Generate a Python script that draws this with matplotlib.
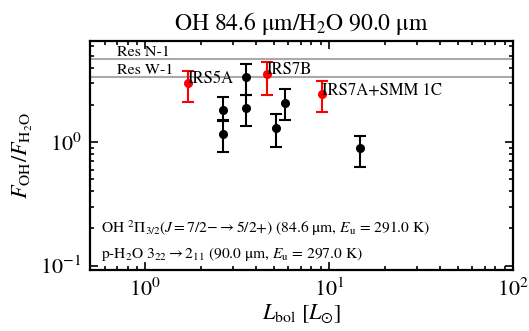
import matplotlib
matplotlib.use("Agg")
import matplotlib.pyplot as plt

plt.rcParams['font.family'] = ['STIXGeneral', 'DejaVu Serif']
plt.rcParams['mathtext.fontset'] = 'stix'

# data
lbol_black = [2.64, 2.64, 3.53, 3.53, 5.15, 5.77, 14.7]
ratio_black = [1.83, 1.16, 1.88, 3.4, 1.31, 2.09, 0.89]
err_lo_black = [1.49, 0.83, 1.34, 2.4, 0.92, 1.50, 0.63]
err_hi_black = [2.34, 1.50, 2.42, 4.3, 1.70, 2.69, 1.12]

names_red = ["IRS5A", "IRS7B", "IRS7A+SMM 1C"]
lbol_red = [1.71, 4.58, 9.13]
ratio_red = [3.0, 3.56, 2.45]
err_lo_red = [2.1, 2.42, 1.77]
err_hi_red = [3.8, 4.45, 3.1]

res_names = ["Res N-1", "Res W-1"]
res_values = [4.7, 3.4]

fig = plt.figure(figsize=(5.29, 3.31), dpi=100)
ax = fig.add_axes([90/529, 1-270/331, (513-90)/529, (270-41)/331])
ax.set_xscale('log')
ax.set_yscale('log')
ax.set_xlim(0.5, 100)
ax.set_ylim(0.092, 6.6)

for v, n in zip(res_values, res_names):
    ax.axhline(v, color='#aaaaaa', lw=1.5, zorder=1)
    ax.text(0.7, v, n, fontsize=11.5, va='bottom', ha='left')

yerr_b = [[r - l for r, l in zip(ratio_black, err_lo_black)],
          [h - r for r, h in zip(ratio_black, err_hi_black)]]
ax.errorbar(lbol_black, ratio_black, yerr=yerr_b, fmt='o', color='black',
            ms=5.5, capsize=4.5, elinewidth=1.5, capthick=1.5, zorder=3)
yerr_r = [[r - l for r, l in zip(ratio_red, err_lo_red)],
          [h - r for r, h in zip(ratio_red, err_hi_red)]]
ax.errorbar(lbol_red, ratio_red, yerr=yerr_r, fmt='o', color='red',
            ms=5.5, capsize=4.5, elinewidth=1.5, capthick=1.5, zorder=3)
for x, y, n in zip(lbol_red, ratio_red, names_red):
    ax.text(x, y, n, fontsize=12, ha='left', va='baseline', zorder=4)

ax.text(0.025, 0.183, r"OH $^2\Pi_{3/2}(J=7/2{-}\rightarrow5/2{+})$ (84.6 $\mathrm{\mu}$m, $E_{\rm u}$ = 291.0 K)",
        transform=ax.transAxes, fontsize=11.2, va='center')
ax.text(0.025, 0.068, r"p-H$_2$O $3_{22}\rightarrow2_{11}$ (90.0 $\mathrm{\mu}$m, $E_{\rm u}$ = 297.0 K)",
        transform=ax.transAxes, fontsize=11.2, va='center')

ax.set_title(r"OH 84.6 $\mathrm{\mu}$m/H$_2$O 90.0 $\mathrm{\mu}$m", fontsize=17, pad=8)
ax.set_xlabel(r"$L_{\rm bol}$ [$L_{\odot}$]", fontsize=16, labelpad=1)
ax.set_ylabel(r"$F_{\rm OH}/F_{\rm H_2O}$", fontsize=16, labelpad=4)
ax.tick_params(which='both', direction='in', top=True, right=True, labelsize=16, width=1.2)
ax.tick_params(which='major', length=6, pad=6)
ax.tick_params(which='minor', length=3)
for s in ax.spines.values():
    s.set_linewidth(1.6)

fig.savefig("out.png", dpi=100)
